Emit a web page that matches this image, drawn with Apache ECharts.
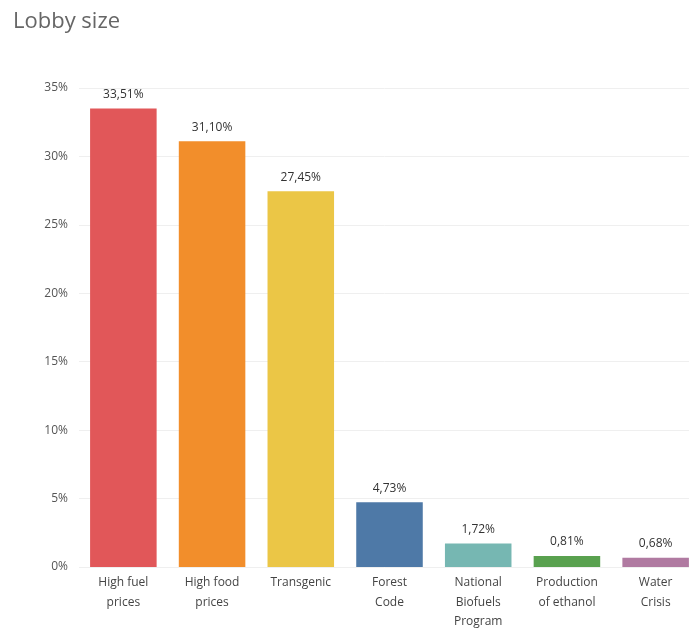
<!DOCTYPE html>
<html>
<head>
<meta charset="utf-8">
<style>
  html, body { margin: 0; padding: 0; background: #fff; overflow: hidden; }
  #chart { width: 689px; height: 630px; }
</style>
<script src="https://cdn.jsdelivr.net/npm/echarts@6/dist/echarts.min.js"></script>
</head>
<body>
<div id="chart"></div>
<script>
// Lobby topics and their share of lobby size (%)
const categories = [
  'High fuel\nprices',
  'High food\nprices',
  'Transgenic',
  'Forest\nCode',
  'National\nBiofuels\nProgram',
  'Production\nof ethanol',
  'Water\nCrisis'
];
const shares = [33.51, 31.10, 27.45, 4.73, 1.72, 0.81, 0.68];
const barColors = ['#E15759', '#F28E2B', '#EBC646', '#4E79A7', '#76B7B2', '#59A14F', '#B07AA1'];
const yTicks = [0, 5, 10, 15, 20, 25, 30, 35];

const chart = echarts.init(document.getElementById('chart'));
const font = '"Open Sans", "Noto Sans", sans-serif';

chart.setOption({
  animation: false,
  title: {
    text: 'Lobby size',
    left: 8,
    top: 6,
    textStyle: { fontFamily: font, fontSize: 22, fontWeight: 'normal', color: '#666' }
  },
  // plot area runs a little past the right edge, so the last bar is clipped
  grid: { left: 79, top: 88, width: 621, height: 479, outerBoundsMode: 'none', containLabel: false },
  xAxis: {
    type: 'category',
    data: categories,
    axisLine: { show: false },
    axisTick: { show: false },
    axisLabel: {
      interval: 0,
      margin: 6,
      fontFamily: font,
      fontSize: 12,
      lineHeight: 19.5,
      color: '#444',
      align: 'center'
    }
  },
  yAxis: {
    type: 'value',
    min: yTicks[0],
    max: yTicks[yTicks.length - 1],
    interval: 5,
    axisLine: { show: false },
    axisTick: { show: false },
    splitLine: { lineStyle: { color: '#efefef', width: 1 } },
    axisLabel: {
      margin: 11,
      fontFamily: font,
      fontSize: 12,
      color: '#555',
      formatter: v => v + '%'
    }
  },
  series: [{
    type: 'bar',
    barWidth: '75%',
    data: shares.map((v, i) => ({ value: v, itemStyle: { color: barColors[i] } })),
    label: {
      show: true,
      position: 'top',
      distance: 8,
      fontFamily: font,
      fontSize: 12,
      color: '#333',
      formatter: p => p.value.toFixed(2).replace('.', ',') + '%'
    }
  }]
});
</script>
</body>
</html>
